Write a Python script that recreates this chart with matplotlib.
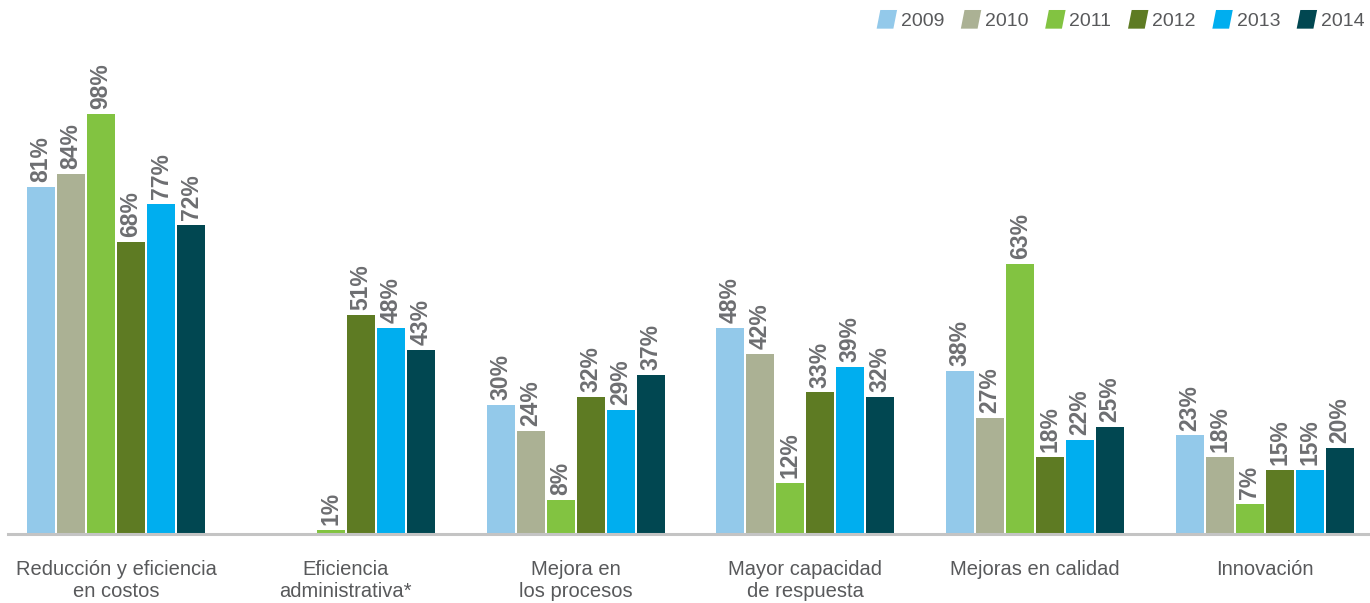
import matplotlib.pyplot as plt
import matplotlib.patches as mpatches
from matplotlib.legend_handler import HandlerPatch
import numpy as np

categories = ["Reducción y eficiencia\nen costos", "Eficiencia\nadministrativa*",
              "Mejora en\nlos procesos", "Mayor capacidad\nde respuesta",
              "Mejoras en calidad", "Innovación"]
years = ["2009", "2010", "2011", "2012", "2013", "2014"]
v2009 = [81, None, 30, 48, 38, 23]
v2010 = [84, None, 24, 42, 27, 18]
v2011 = [98, 1, 8, 12, 63, 7]
v2012 = [68, 51, 32, 33, 18, 15]
v2013 = [77, 48, 29, 39, 22, 15]
v2014 = [72, 43, 37, 32, 25, 20]
series = [v2009, v2010, v2011, v2012, v2013, v2014]
colors = ["#93c9ea", "#abb194", "#82c341", "#5e7b23", "#00aeef", "#014751"]


# slanted legend swatches
def slanted(legend, orig_handle, xdescent, ydescent, width, height, fontsize):
    s = width * 0.18
    return mpatches.Polygon([(-xdescent + s, -ydescent + height), (-xdescent + width, -ydescent + height),
                             (-xdescent + width - s, -ydescent), (-xdescent, -ydescent)], closed=True)


plt.rcParams['font.family'] = ['Liberation Sans', 'DejaVu Sans']
fig = plt.figure(figsize=(13.7, 6.03), dpi=100)
ax = fig.add_axes([0, 0.1144, 1, 0.8856])

x = np.arange(len(categories))
step = 0.1305
width = 0.122
handles = []
for i in range(len(series)):
    pos = x + (i - 2.5) * step
    vals = [np.nan if v is None else v for v in series[i]]
    b = ax.bar(pos, vals, width, color=colors[i], label=years[i])
    handles.append(b.patches[0] if series[i][0] is not None else b)
    for p, v in zip(pos, series[i]):
        if v is None:
            continue
        ax.annotate(str(v) + "%", (p, v), xytext=(0, 3.5), textcoords="offset points",
                    rotation=90, ha="center", va="bottom", fontsize=16.5,
                    fontweight="bold", color="#6d6e71")

ax.set_xlim(-0.505, 5.457)
ax.set_ylim(0, 124.5)
ax.axhline(0, xmin=0.006, xmax=1, color="#c4c4c4", linewidth=2.2, clip_on=False)
for s in ax.spines.values():
    s.set_visible(False)
ax.set_yticks([])
ax.set_xticks(x)
ax.set_xticklabels(categories, fontsize=14.5, color="#58595b", linespacing=1.2)
ax.tick_params(axis="x", length=0, pad=19)

fig.legend(handles, years, loc="upper right", bbox_to_anchor=(1.006, 1.006), ncol=6, frameon=False,
           fontsize=14, handlelength=1.05, handleheight=1.1, handletextpad=0.2,
           columnspacing=0.85, borderpad=0.2, labelcolor="#58595b",
           handler_map={mpatches.Rectangle: HandlerPatch(patch_func=slanted)})

fig.savefig("out.png", dpi=100)
